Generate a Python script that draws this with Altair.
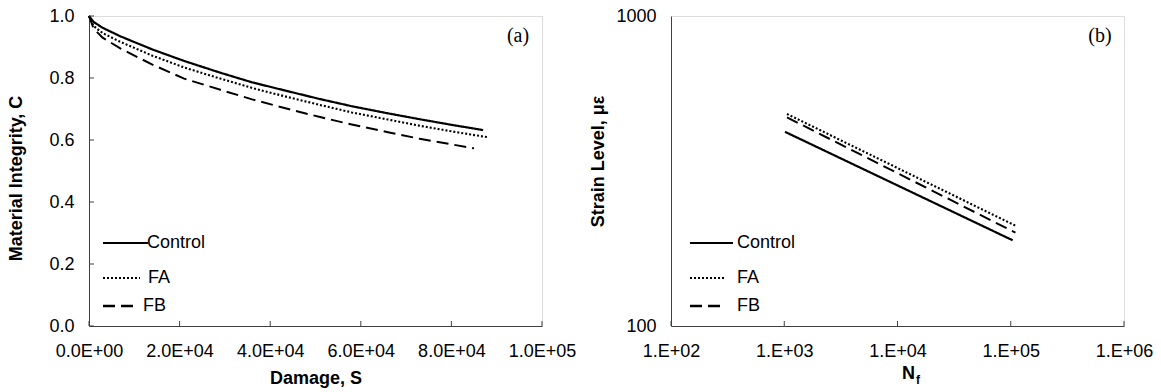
import altair as alt
import pandas as pd

series_names = ["Control", "FA", "FB"]

# ---- Panel (a): Material integrity C vs damage S ----
ctrl_S = [0, 1000, 3000, 7000, 14000, 21000, 29000, 36000, 44000, 51000, 58000, 66000, 73000, 80000, 87000]
ctrl_C = [1.0, 0.981, 0.962, 0.934, 0.892, 0.855, 0.817, 0.786, 0.757, 0.732, 0.709, 0.686, 0.667, 0.649, 0.632]
fa_S = [0, 1000, 3000, 7000, 14000, 21000, 29000, 36000, 44000, 51000, 58000, 66000, 73000, 80000, 88000]
fa_C = [1.0, 0.968, 0.945, 0.916, 0.872, 0.834, 0.798, 0.768, 0.738, 0.713, 0.689, 0.666, 0.646, 0.628, 0.609]
fb_S = [0, 1000, 3000, 7000, 14000, 21000, 29000, 36000, 44000, 51000, 58000, 66000, 73000, 80000, 85000]
fb_C = [1.0, 0.960, 0.930, 0.895, 0.843, 0.798, 0.762, 0.731, 0.700, 0.674, 0.650, 0.625, 0.604, 0.586, 0.573]

# ---- Panel (b): strain level vs Nf ----
ctrl_N = [1016, 104000]
ctrl_eps = [423, 189]
fa_N = [1057, 112000]
fa_eps = [483, 210]
fb_N = [1057, 110000]
fb_eps = [471, 200]

a_x_ticks = [0, 20000, 40000, 60000, 80000, 100000]
a_y_ticks = [0.0, 0.2, 0.4, 0.6, 0.8, 1.0]
b_x_ticks = [100, 1000, 10000, 100000, 1000000]
b_y_ticks = [100, 1000]

W, H = 453, 310
FONT = "Liberation Sans"
AX = "#404040"

dash_range = [[1, 0], [2, 2], [12, 6]]
width_range = [2.2, 2.0, 2.6]


def long_df(xs_list, ys_list, xname, yname):
    rows = []
    for name, xs, ys in zip(series_names, xs_list, ys_list):
        for x, y in zip(xs, ys):
            rows.append({xname: x, yname: y, "series": name})
    return pd.DataFrame(rows)


df_a = long_df([ctrl_S, fa_S, fb_S], [ctrl_C, fa_C, fb_C], "S", "C")
df_b = long_df([ctrl_N, fa_N, fb_N], [ctrl_eps, fa_eps, fb_eps], "N", "E")

axis_common = dict(
    labelFont=FONT, labelFontSize=18, labelColor="black",
    titleFont=FONT, titleFontSize=18, titleFontWeight="bold", titleColor="black",
    domainColor=AX, domainWidth=1, ticks=False, tickSize=0, grid=False,
    labelOverlap=False, labelFlush=False, labelBound=False,
)


def legend_layers(xstart, xends, textx):
    layers = []
    ys = [227, 262, 290]
    for i, name in enumerate(series_names):
        d = pd.DataFrame({"series": [name]})
        layers.append(
            alt.Chart(d).mark_rule(color="black", strokeWidth=width_range[i], strokeDash=dash_range[i])
            .encode(x=alt.value(xstart), x2=alt.value(xends[i]), y=alt.value(ys[i]))
        )
        layers.append(
            alt.Chart(d).mark_text(font=FONT, fontSize=18, align="left", baseline="middle", color="black")
            .encode(x=alt.value(textx[i]), y=alt.value(ys[i]), text="series:N")
        )
    return layers


def panel(df, xf, yf, xscale, yscale, xaxis, yaxis, xt, yt, tag, leg):
    lines = alt.Chart(df).mark_line(color="black").encode(
        x=alt.X(f"{xf}:Q", scale=xscale, axis=xaxis),
        y=alt.Y(f"{yf}:Q", scale=yscale, axis=yaxis),
        strokeDash=alt.StrokeDash("series:N", scale=alt.Scale(domain=series_names, range=dash_range), legend=None),
        strokeWidth=alt.StrokeWidth("series:N", scale=alt.Scale(domain=series_names, range=width_range), legend=None),
        detail="series:N",
    )
    xt_rules = alt.Chart(pd.DataFrame({xf: xt})).mark_rule(color=AX, strokeWidth=1).encode(
        x=alt.X(f"{xf}:Q", scale=xscale, axis=xaxis), y=alt.value(H), y2=alt.value(H - 5)
    )
    layers = [lines, xt_rules]
    if yt is not None:
        yt_rules = alt.Chart(pd.DataFrame({yf: yt})).mark_rule(color=AX, strokeWidth=1).encode(
            y=alt.Y(f"{yf}:Q", scale=yscale, axis=yaxis), x=alt.value(0), x2=alt.value(5)
        )
        layers.append(yt_rules)
    tag_layer = alt.Chart(pd.DataFrame({"t": [tag]})).mark_text(
        font="Liberation Serif", fontSize=20, align="center", baseline="middle", color="black"
    ).encode(x=alt.value(429), y=alt.value(20), text="t:N")
    layers.append(tag_layer)
    layers += leg
    return alt.layer(*layers).properties(width=W, height=H)


left = panel(
    df_a, "S", "C",
    alt.Scale(domain=[0, 100000], nice=False, zero=False),
    alt.Scale(domain=[0, 1], nice=False),
    alt.Axis(values=a_x_ticks, labelExpr="replace(upper(format(datum.value, '.1e')), 'E+', 'E+0')",
             title="Damage, S", titleY=52, titleBaseline="middle", labelPadding=16, **axis_common),
    alt.Axis(values=a_y_ticks, format=".1f", title="Material Integrity, C", titleX=-73, titleY=162,
             titleBaseline="middle", labelPadding=15, **axis_common),
    a_x_ticks, a_y_ticks, "(a)",
    legend_layers(14, [59, 51, 46], [58, 59, 54]),
)

nf_text = [
    alt.Chart(pd.DataFrame({"t": ["N"]})).mark_text(
        font=FONT, fontSize=18, fontWeight="bold", align="left", baseline="middle", color="black"
    ).encode(x=alt.value(231), y=alt.value(358), text="t:N"),
    alt.Chart(pd.DataFrame({"t": ["f"]})).mark_text(
        font=FONT, fontSize=12, fontWeight="bold", align="left", baseline="middle", color="black"
    ).encode(x=alt.value(245), y=alt.value(364), text="t:N"),
]

right = panel(
    df_b, "N", "E",
    alt.Scale(type="log", domain=[100, 1000000], nice=False),
    alt.Scale(type="log", domain=[100, 1000], nice=False),
    alt.Axis(values=b_x_ticks, labelExpr="replace(upper(format(datum.value, '.0e')), 'E+', '.E+0')",
             title="", labelPadding=16, **axis_common),
    alt.Axis(values=b_y_ticks, format="d", title="Strain Level, \u03bc\u03b5", titleX=-73, titleY=145,
             titleBaseline="middle", labelPadding=15, **axis_common),
    b_x_ticks, None, "(b)",
    legend_layers(19, [62, 53, 50], [66, 66, 66]) + nf_text,
)

chart = alt.hconcat(left, right, spacing=129, bounds="flush").properties(
    padding={"left": 6, "top": 6, "right": 0, "bottom": 0}
).configure_view(stroke=AX, strokeWidth=1).configure(background="white")

chart.save("out.html", embed_options={"renderer": "svg", "actions": False})
